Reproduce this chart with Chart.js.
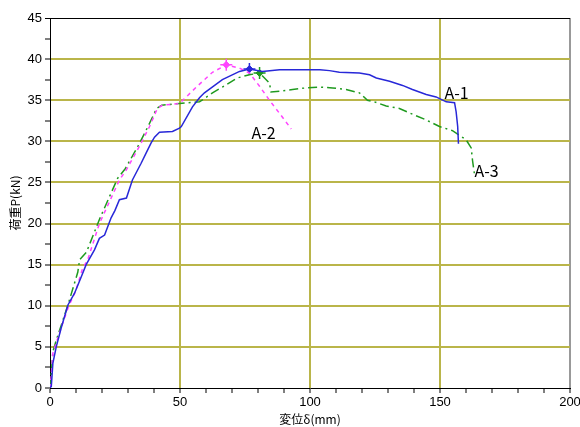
<!DOCTYPE html>
<html>
<head>
<meta charset="utf-8">
<script src="https://cdn.jsdelivr.net/npm/chart.js@4.4.0/dist/chart.umd.min.js"></script>
<style>
  html, body { margin: 0; padding: 0; background: #fff; }
  #wrap { width: 580px; height: 427px; }
</style>
</head>
<body>
<div id="wrap"><canvas id="loadChart" width="580" height="427"></canvas></div>
<script>
// 変位δ(mm) / 荷重P(kN)
const a1X = [0, 0.5, 1.1, 2.4, 4.3, 6.9, 9.4, 12, 13.9, 17.1, 19, 21, 23.5, 25, 26.7, 29.4, 31.7, 35, 37, 38.9, 40.2, 42.1, 47.1, 49.8, 50.5, 54.8, 57.5, 59.4, 66.3, 72.9, 76.7, 81.7, 88.3, 103.8, 107.5, 111.3, 119, 122.9, 125.5, 130.6, 135.6, 139.4, 144.7, 148.5, 152.4, 155.6, 156.2, 156.8, 157.1];
const a1Y = [0, 0.2, 3, 5, 7.3, 10.1, 11.5, 13.5, 15, 16.8, 18.2, 18.6, 20.7, 21.6, 22.9, 23.1, 25.3, 27.3, 28.6, 29.8, 30.5, 31.1, 31.2, 31.6, 31.8, 34.2, 35.3, 35.9, 37.5, 38.5, 38.8, 38.5, 38.7, 38.7, 38.6, 38.4, 38.3, 38.1, 37.7, 37.3, 36.8, 36.3, 35.7, 35.4, 34.8, 34.7, 33.6, 31.8, 29.7];

const a2X = [0, 0.5, 1.1, 2.4, 4.5, 7, 10, 12.5, 14.5, 19, 26.7, 29.3, 34.4, 38.3, 41.3, 43.3, 49.8, 56.3, 62.5, 67.8, 72.9, 76.7, 80.6, 84.4, 88.3, 92.8];
const a2Y = [0, 1.5, 4.2, 5.5, 7.5, 9.8, 11.9, 14.5, 15.6, 20, 25.3, 26.5, 29.4, 31.8, 34, 34.4, 34.6, 36.6, 38.4, 39.3, 38.9, 38.3, 36.7, 35, 33.4, 31.5];

const a3X = [0, 0.5, 1.1, 2.4, 4.5, 7, 10.7, 11.4, 14, 19, 26, 29, 34, 38, 41, 43, 49.8, 57.5, 62.5, 66.3, 72, 76.7, 80.6, 84.4, 85, 88.3, 93.3, 98.5, 103.7, 108.7, 113.9, 119, 122.1, 124.8, 129.3, 134.4, 139.4, 144.7, 149.8, 154.8, 160, 162, 162.5, 163.3];
const a3Y = [0, 1.8, 4.4, 5.8, 7.8, 10.2, 14.1, 15.6, 16.5, 20.5, 25.5, 26.7, 29.5, 32, 34, 34.4, 34.6, 34.8, 35.9, 36.6, 37.7, 38.1, 38.3, 37.1, 36, 36.1, 36.3, 36.5, 36.6, 36.5, 36.3, 35.9, 35, 34.8, 34.3, 34, 33.3, 32.6, 31.8, 31.3, 30.2, 29.2, 27.7, 25.9];

const peakX = [67.8, 76.7, 80.6];
const peakY = [39.3, 38.8, 38.3];

const seriesNames = ['A-1', 'A-2', 'A-3'];
const labelX = [151.7, 77.5, 163.3];
const labelY = [35.9, 31.0, 26.4];

const xTickLabels = [0, 50, 100, 150, 200];
const yTickLabels = [0, 5, 10, 15, 20, 25, 30, 35, 40, 45];

const blue = '#2828d8';
const pink = '#ff44ff';
const green = '#1f9a1f';
const olive = '#bab54a';

function pts(xs, ys) {
  return xs.map((x, i) => ({ x: x, y: ys[i] }));
}

const seriesLabels = {
  id: 'seriesLabels',
  afterDatasetsDraw(chart) {
    const c = chart.ctx;
    const xs = chart.scales.x, ys = chart.scales.y;
    c.save();
    c.fillStyle = '#000';
    c.font = '16px "Noto Sans CJK JP", sans-serif';
    c.textBaseline = 'middle';
    c.textAlign = 'left';
    seriesNames.forEach((n, i) => {
      c.fillText(n, xs.getPixelForValue(labelX[i]), ys.getPixelForValue(labelY[i]));
    });
    c.restore();
  }
};

new Chart(document.getElementById('loadChart'), {
  type: 'scatter',
  data: {
    datasets: [
      {
        label: 'A-1', data: pts(a1X, a1Y), showLine: true,
        borderColor: blue, borderWidth: 1.5, pointRadius: 0, tension: 0
      },
      {
        label: 'A-2', data: pts(a2X, a2Y), showLine: true,
        borderColor: pink, borderWidth: 1.5, borderDash: [4, 4], pointRadius: 0, tension: 0
      },
      {
        label: 'A-3', data: pts(a3X, a3Y), showLine: true,
        borderColor: green, borderWidth: 1.5, borderDash: [9, 4, 2, 4], pointRadius: 0, tension: 0
      },
      {
        label: 'peak', data: pts(peakX, peakY), showLine: false,
        pointStyle: 'cross', pointRadius: 6, borderWidth: 1.5,
        pointBorderColor: [pink, blue, green], pointBackgroundColor: [pink, blue, green]
      },
      {
        label: 'peak2', data: pts(peakX, peakY), showLine: false,
        pointStyle: 'rectRot', pointRadius: 3.5, borderWidth: 1,
        pointBorderColor: [pink, blue, green], pointBackgroundColor: [pink, blue, green]
      }
    ]
  },
  options: {
    responsive: false,
    animation: false,
    layout: { padding: { top: 18, right: 10, left: 0, bottom: 0 } },
    plugins: { legend: { display: false }, tooltip: { enabled: false } },
    scales: {
      x: {
        type: 'linear', min: 0, max: 200,
        afterFit: (s) => { s.height = 39; s.paddingRight = 0; s.paddingLeft = 0; },
        border: { color: '#000', width: 1 },
        grid: {
          color: (c) => {
            const v = c.tick.value;
            if (v === 200) return '#999';
            return (v % 50 === 0 && v !== 0) ? olive : 'rgba(0,0,0,0)';
          },
          lineWidth: 2,
          tickColor: '#000', tickLength: 5, tickWidth: 1
        },
        ticks: {
          stepSize: 10, autoSkip: false, maxRotation: 0, color: '#000', padding: 2,
          font: { family: '"Liberation Sans", Arial, sans-serif', size: 13 },
          callback: (v) => xTickLabels.includes(v) ? String(v) : ''
        },
        title: {
          display: true, text: '変位δ(mm)', color: '#000', padding: { top: 0, bottom: 0 },
          font: { family: '"Noto Sans CJK JP", sans-serif', size: 12 }
        }
      },
      y: {
        type: 'linear', min: 0, max: 45,
        afterFit: (s) => { s.width = 50; s.paddingTop = 0; s.paddingBottom = 0; },
        border: { color: '#000', width: 1 },
        grid: {
          color: (c) => {
            const v = c.tick.value;
            if (v === 45) return '#000';
            return (v % 5 === 0 && v !== 0) ? olive : 'rgba(0,0,0,0)';
          },
          lineWidth: (c) => c.tick.value === 45 ? 1 : 2,
          tickColor: '#000', tickLength: 5, tickWidth: 1
        },
        ticks: {
          stepSize: 2.5, autoSkip: false, color: '#000', padding: 3,
          font: { family: '"Liberation Sans", Arial, sans-serif', size: 13 },
          callback: (v) => yTickLabels.includes(v) ? String(v) : ''
        },
        title: {
          display: true, text: '荷重P(kN)', color: '#000', padding: { top: 8, bottom: 0 },
          font: { family: '"Noto Sans CJK JP", sans-serif', size: 12 }
        }
      }
    }
  },
  plugins: [seriesLabels]
});
</script>
</body>
</html>
